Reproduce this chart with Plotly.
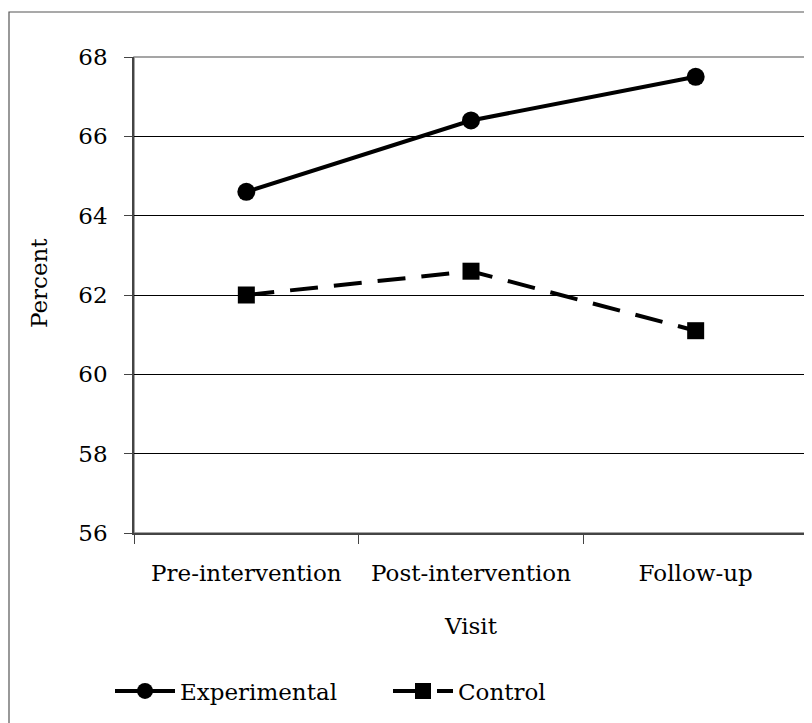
import plotly.graph_objects as go

visits = ["Pre-intervention", "Post-intervention", "Follow-up"]
experimental = [64.6, 66.4, 67.5]
control = [62.0, 62.6, 61.1]
y_ticks = [56, 58, 60, 62, 64, 66, 68]

FONT = "DejaVu Serif"
FS = 23

fig = go.Figure()
fig.add_trace(go.Scatter(
    x=visits, y=experimental, name="Experimental", mode="lines+markers",
    line=dict(color="black", width=4),
    marker=dict(symbol="circle", size=18, color="black"),
))
fig.add_trace(go.Scatter(
    x=visits, y=control, name="Control", mode="lines+markers",
    line=dict(color="black", width=4, dash="28px,16px"),
    marker=dict(symbol="square", size=17, color="black"),
))

# page has an 8px body margin, so the figure is drawn 8px smaller and shifted
W, H = 804, 715
L, T = 126, 49
pw, ph = 674, 476
R = W - L - pw
B = H - T - ph


def px(xf):
    return (xf - L) / pw


def py(yf):
    return 1 - (yf - T) / ph


fig.update_layout(
    width=W, height=H,
    margin=dict(l=L, r=R, t=T, b=B),
    paper_bgcolor="white", plot_bgcolor="white",
    font=dict(family=FONT, size=FS, color="black"),
    showlegend=True,
    legend=dict(orientation="h", x=px(102), y=py(683),
                xanchor="left", yanchor="middle", font=dict(size=FS),
                itemwidth=60, entrywidth=203, bgcolor="rgba(0,0,0,0)"),
    xaxis=dict(
        type="category", range=[-0.5, 2.5],
        showline=True, linecolor="#444", linewidth=1.5,
        ticks="outside", tickson="boundaries", ticklen=9, tickcolor="#444",
        showgrid=False, mirror=False,
        ticklabelstandoff=19,
        tickfont=dict(size=FS),
    ),
    yaxis=dict(
        range=[56, 68], tickvals=y_ticks,
        showline=True, linecolor="#444", linewidth=1.5,
        ticks="outside", ticklen=8, tickcolor="#444",
        showgrid=True, gridcolor="black", gridwidth=1,
        zeroline=False,
        ticklabelstandoff=12,
        tickfont=dict(size=FS),
    ),
    annotations=[
        dict(text="Visit", xref="paper", yref="paper", x=px(463), y=py(618),
             xanchor="center", yanchor="middle", showarrow=False,
             font=dict(size=FS)),
        dict(text="Percent", xref="paper", yref="paper", x=px(31), y=py(275),
             xanchor="center", yanchor="middle", showarrow=False, textangle=-90,
             font=dict(size=FS)),
    ],
    shapes=[
        dict(type="rect", xref="paper", yref="paper", x0=0, x1=1, y0=0, y1=1,
             line=dict(color="#888", width=1.5), layer="below"),
        dict(type="rect", xref="paper", yref="paper",
             x0=px(1), x1=px(830), y0=py(760), y1=py(4),
             line=dict(color="#555", width=1.2)),
    ],
)

fig.write_html("out.html")
